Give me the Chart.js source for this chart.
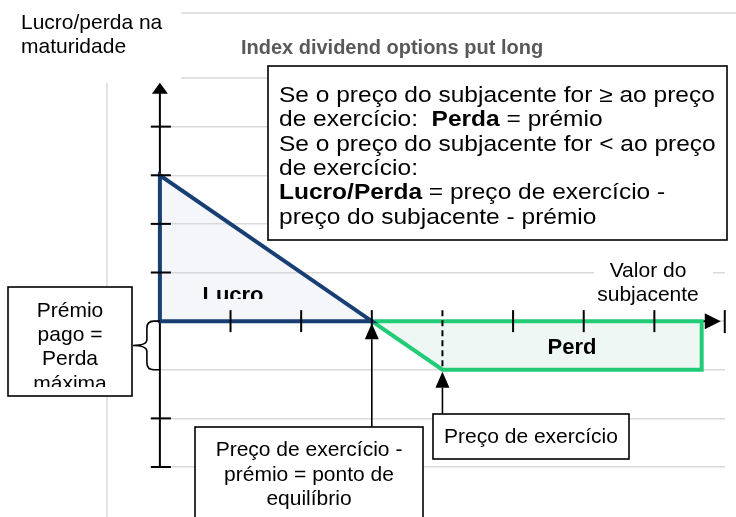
<!DOCTYPE html>
<html>
<head>
<meta charset="utf-8">
<script src="https://cdn.jsdelivr.net/npm/chart.js@4.4.0/dist/chart.umd.min.js"></script>
<style>
  body { margin: 0; background: #fff; }
  #chart { display: block; background: #fff; }
</style>
</head>
<body>
<canvas id="chart" width="736" height="517"></canvas>
<script>
// payoff diagram values (x = price of the underlying, y = profit / loss)
var xTicks = [1, 2, 3, 4, 5, 6, 7];
var yTicks = [-3, -2, -1, 0, 1, 2, 3, 4, 5];
var lucroX = [0, 0, 3, 0];
var lucroY = [0, 3, 0, 0];
var perdaX = [3, 4, 7.67, 7.67, 3];
var perdaY = [0, -1, -1, 0, 0];
var breakEven = 3;
var strike = 4;
var premium = -1;
var yArrowTop = 4.9;
var xArrowEnd = 7.94;

var FONT = '"Liberation Sans", Arial, sans-serif';
var GRID = '#d9d9d9';
var NAVY = '#173f74';
var GREEN = '#22cc77';

function pts(xs, ys) {
    return xs.map(function (x, i) { return { x: x, y: ys[i] }; });
}

function line(ctx, x1, y1, x2, y2) {
    ctx.beginPath();
    ctx.moveTo(x1, y1);
    ctx.lineTo(x2, y2);
    ctx.stroke();
}

function txt(ctx, s, x, y, size, bold, align, color) {
    ctx.font = (bold ? 'bold ' : '') + size + 'px ' + FONT;
    ctx.fillStyle = color || '#000';
    ctx.textAlign = align || 'left';
    ctx.textBaseline = 'alphabetic';
    ctx.fillText(s, x, y);
}

// text pieces on one line, some bold, slightly widened like the original
function rich(ctx, parts, x, y, size, sx) {
    ctx.save();
    ctx.translate(x, y);
    ctx.scale(sx, 1);
    ctx.textAlign = 'left';
    ctx.textBaseline = 'alphabetic';
    ctx.fillStyle = '#000';
    var cx = 0;
    parts.forEach(function (p) {
        ctx.font = (p[1] ? 'bold ' : '') + size + 'px ' + FONT;
        ctx.fillText(p[0], cx, 0);
        cx += ctx.measureText(p[0]).width;
    });
    ctx.restore();
}

function box(ctx, x, y, w, h) {
    ctx.fillStyle = '#fff';
    ctx.fillRect(x, y, w, h);
    ctx.strokeStyle = '#000';
    ctx.lineWidth = 1.6;
    ctx.strokeRect(x, y, w, h);
}

function arrowUp(ctx, x, tip, from, len, half) {
    ctx.strokeStyle = '#000';
    ctx.lineWidth = 1.6;
    line(ctx, x, from, x, tip + len);
    ctx.fillStyle = '#000';
    ctx.beginPath();
    ctx.moveTo(x, tip);
    ctx.lineTo(x - half, tip + len);
    ctx.lineTo(x + half, tip + len);
    ctx.closePath();
    ctx.fill();
}

var decor = {
    id: 'decor',
    beforeDatasetsDraw: function (chart) {
        var ctx = chart.ctx, xs = chart.scales.x, ys = chart.scales.y;
        var x0 = xs.getPixelForValue(0), y0 = ys.getPixelForValue(0);
        ctx.save();
        ctx.strokeStyle = GRID;
        ctx.lineWidth = 1.5;
        line(ctx, 181, 13, 736, 13);
        line(ctx, 181, ys.getPixelForValue(5), chart.chartArea.right, ys.getPixelForValue(5));
        line(ctx, 107, 83, 107, 517);

        // axes
        ctx.strokeStyle = '#000';
        ctx.lineWidth = 2;
        line(ctx, x0, ys.getPixelForValue(yTicks[0]), x0, ys.getPixelForValue(yArrowTop) + 8);
        line(ctx, x0, y0, xs.getPixelForValue(xArrowEnd) - 8, y0);

        // x axis label on its own white box
        ctx.fillStyle = '#fff';
        ctx.fillRect(594, 254, 119, 52);
        txt(ctx, 'Valor do', 648, 277, 21, false, 'center');
        txt(ctx, 'subjacente', 648, 301, 21, false, 'center');
        ctx.restore();
    },
    afterDatasetsDraw: function (chart) {
        var ctx = chart.ctx, xs = chart.scales.x, ys = chart.scales.y;
        var x0 = xs.getPixelForValue(0), y0 = ys.getPixelForValue(0);
        var yLoss = ys.getPixelForValue(premium);
        ctx.save();

        // axis arrow heads
        ctx.fillStyle = '#000';
        var yt = ys.getPixelForValue(yArrowTop);
        ctx.beginPath();
        ctx.moveTo(x0, yt);
        ctx.lineTo(x0 - 8, yt + 11);
        ctx.lineTo(x0 + 8, yt + 11);
        ctx.closePath();
        ctx.fill();
        var xt = xs.getPixelForValue(xArrowEnd);
        ctx.beginPath();
        ctx.moveTo(xt, y0);
        ctx.lineTo(xt - 16, y0 - 8);
        ctx.lineTo(xt - 16, y0 + 8);
        ctx.closePath();
        ctx.fill();
        ctx.strokeStyle = '#000';
        ctx.lineWidth = 2;
        line(ctx, xt + 4, y0 - 11, xt + 4, y0 + 12);

        // tick marks
        yTicks.forEach(function (v) {
            if (v === 0 || v === premium || v === yTicks[yTicks.length - 1]) return;
            var y = ys.getPixelForValue(v);
            line(ctx, x0 - 9, y, x0 + 11, y);
        });
        xTicks.forEach(function (v) {
            if (v === strike) return;
            var x = xs.getPixelForValue(v);
            line(ctx, x, y0 - 11, x, y0 + 11);
        });
        // strike dashed line
        var xs4 = xs.getPixelForValue(strike);
        ctx.setLineDash([6, 4]);
        line(ctx, xs4, y0 - 11, xs4, yLoss);
        ctx.setLineDash([]);

        // brace for the premium
        ctx.lineWidth = 1.6;
        var ym = (y0 + yLoss) / 2;
        ctx.beginPath();
        ctx.moveTo(x0, y0);
        ctx.lineTo(x0 - 6, y0);
        ctx.quadraticCurveTo(x0 - 13, y0, x0 - 13, y0 + 7);
        ctx.lineTo(x0 - 13, ym - 6);
        ctx.quadraticCurveTo(x0 - 13, ym, x0 - 27, ym);
        ctx.quadraticCurveTo(x0 - 13, ym, x0 - 13, ym + 6);
        ctx.lineTo(x0 - 13, yLoss - 7);
        ctx.quadraticCurveTo(x0 - 13, yLoss, x0 - 6, yLoss);
        ctx.lineTo(x0, yLoss);
        ctx.stroke();

        // region labels
        ctx.save();
        ctx.beginPath();
        ctx.rect(170, 260, 190, 39);
        ctx.clip();
        txt(ctx, 'Lucro', 233, 302, 22, true, 'center');
        ctx.restore();
        txt(ctx, 'Perd', 572, 354, 22, true, 'center');

        // axis title and chart title
        txt(ctx, 'Lucro/perda na', 21, 29, 21);
        txt(ctx, 'maturidade', 21, 53, 21);
        txt(ctx, 'Index dividend options put long', 392, 54, 20, true, 'center', '#595959');

        // rule box
        box(ctx, 268, 66, 459, 174);
        var lh = 24.3, bx = 279, by = 102, fs = 21.5, sx = 1.14;
        rich(ctx, [['Se o preço do subjacente for \u2265 ao preço']], bx, by, fs, sx);
        rich(ctx, [['de exercício:  '], ['Perda', true], [' = prémio']], bx, by + lh, fs, sx);
        rich(ctx, [['Se o preço do subjacente for < ao preço']], bx, by + 2 * lh, fs, sx);
        rich(ctx, [['de exercício:']], bx, by + 3 * lh, fs, sx);
        rich(ctx, [['Lucro/Perda', true], [' = preço de exercício -']], bx, by + 4 * lh, fs, sx);
        rich(ctx, [['preço do subjacente - prémio']], bx, by + 5 * lh, fs, sx);

        // premium box
        box(ctx, 8, 287, 124, 109);
        ctx.save();
        ctx.beginPath();
        ctx.rect(9, 288, 122, 99);
        ctx.clip();
        txt(ctx, 'Prémio', 70, 316.5, 21, false, 'center');
        txt(ctx, 'pago =', 70, 340.5, 21, false, 'center');
        txt(ctx, 'Perda', 70, 365, 21, false, 'center');
        txt(ctx, 'máxima', 70, 389.5, 21, false, 'center');
        ctx.restore();

        // break-even box and arrow
        var xb = xs.getPixelForValue(breakEven);
        arrowUp(ctx, xb, y0 + 2, 427, 16, 7);
        box(ctx, 195, 427, 228, 110);
        txt(ctx, 'Preço de exercício -', 309, 456, 21, false, 'center');
        txt(ctx, 'prémio = ponto de', 309, 480.5, 21, false, 'center');
        txt(ctx, 'equilíbrio', 309, 505, 21, false, 'center');

        // strike box and arrow
        arrowUp(ctx, xs4, yLoss + 2, 414, 16, 7);
        box(ctx, 433, 414, 196, 45);
        txt(ctx, 'Preço de exercício', 531, 443, 21, false, 'center');

        ctx.restore();
    }
};

var ctx = document.getElementById('chart');
var myChart = new Chart(ctx, {
    type: 'scatter',
    data: {
        datasets: [
            {
                label: 'Lucro',
                data: pts(lucroX, lucroY),
                showLine: true,
                borderColor: NAVY,
                borderWidth: 4,
                borderJoinStyle: 'miter',
                borderCapStyle: 'square',
                backgroundColor: 'rgba(211, 219, 231, 0.25)',
                fill: 'shape',
                pointRadius: 0,
                tension: 0
            },
            {
                label: 'Perda',
                data: pts(perdaX, perdaY),
                showLine: true,
                borderColor: GREEN,
                borderWidth: 4,
                borderJoinStyle: 'miter',
                borderCapStyle: 'square',
                backgroundColor: 'rgba(190, 225, 210, 0.25)',
                fill: 'shape',
                pointRadius: 0,
                tension: 0
            }
        ]
    },
    options: {
        responsive: false,
        animation: false,
        devicePixelRatio: 1,
        layout: {
            padding: { left: 150, right: 11, top: 78, bottom: 50 }
        },
        plugins: {
            legend: { display: false },
            tooltip: { enabled: false }
        },
        scales: {
            x: {
                type: 'linear',
                min: -0.14,
                max: 8,
                display: false
            },
            y: {
                type: 'linear',
                min: yTicks[0],
                max: yTicks[yTicks.length - 1],
                afterBuildTicks: function (axis) {
                    axis.ticks = yTicks.map(function (v) { return { value: v }; });
                },
                ticks: { display: false },
                border: { display: false },
                grid: {
                    drawTicks: false,
                    lineWidth: 1.5,
                    color: function (c) {
                        return c.tick && c.tick.value === 5 ? 'rgba(0,0,0,0)' : GRID;
                    }
                }
            }
        }
    },
    plugins: [decor]
});
</script>
</body>
</html>
